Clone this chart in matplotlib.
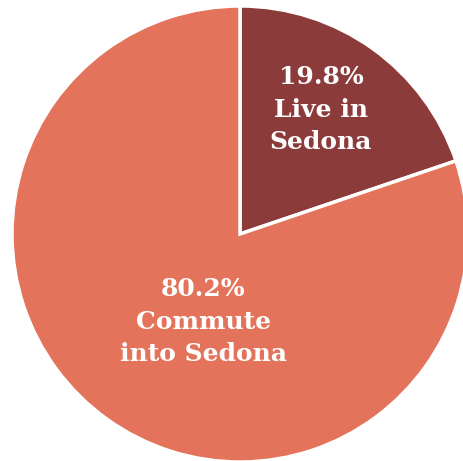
import matplotlib
matplotlib.use('Agg')
import matplotlib.pyplot as plt

shares = [19.8, 80.2]
labels = ['19.8%\nLive in\nSedona', '80.2%\nCommute\ninto Sedona']

dark_color = '#8b3b3a'
light_color = '#e3735a'

fig = plt.figure(figsize=(4.64, 4.61), dpi=100)
fig.patch.set_facecolor('white')

# pie centre sits at about (240, 234) px, radius ~228 px
W, H = 464, 461
cx, cy, r = 240, 234, 228
ax = fig.add_axes([(cx - r) / W, (H - cy - r) / H, 2 * r / W, 2 * r / H])
ax.axis('off')

ax.pie(
    shares,
    colors=[dark_color, light_color],
    startangle=90,
    counterclock=False,
    radius=1,
    wedgeprops={'edgecolor': 'white', 'linewidth': 2.5},
)
ax.set_xlim(-1, 1)
ax.set_ylim(-1, 1)

label_pos = [(0.355, 0.545), (-0.16, -0.385)]
for text, (x, y) in zip(labels, label_pos):
    ax.text(x, y, text, ha='center', va='center', color='white',
            fontsize=18, fontweight='bold', family='DejaVu Serif',
            linespacing=1.45)

fig.savefig('out.png', dpi=100)
